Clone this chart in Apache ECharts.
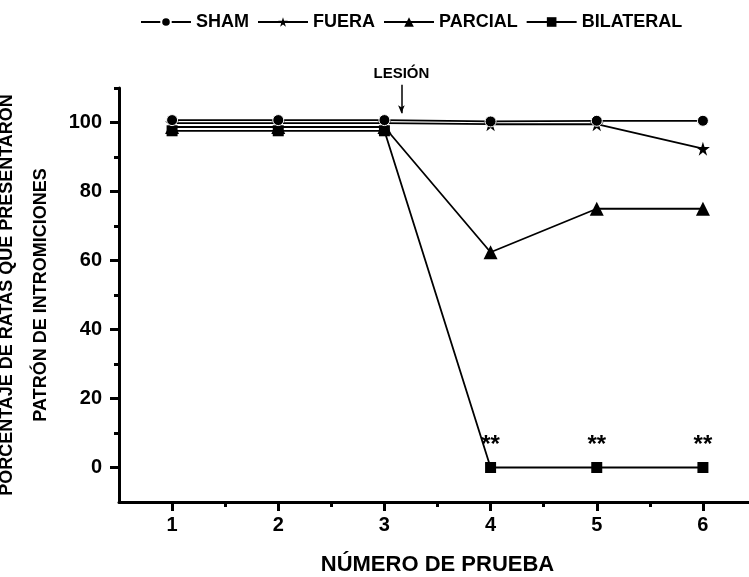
<!DOCTYPE html>
<html>
<head>
<meta charset="utf-8">
<script src="https://cdn.jsdelivr.net/npm/echarts@6/dist/echarts.min.js"></script>
<style>
  html, body { margin: 0; padding: 0; background: #fff; }
  #chart { width: 749px; height: 577px; }
</style>
</head>
<body>
<div id="chart"></div>
<script>
// trial numbers and percentages
const trials = [1, 2, 3, 4, 5, 6];
const sham = [100.7, 100.7, 100.7, 100.3, 100.5, 100.5];
const fuera = [99.8, 99.8, 99.8, 99.5, 99.5, 92.4];
const parcial = [98.7, 98.7, 98.7, 62.4, 75, 75];
const bilateral = [97.6, 97.6, 97.6, 0, 0, 0];
const signif = ['', '', '', '**', '**', '**'];

const yMajor = [0, 20, 40, 60, 80, 100];
const yMinor = [10, 30, 50, 70, 90, 110];
const xMajor = [1, 2, 3, 4, 5, 6];
const xMinor = [1.5, 2.5, 3.5, 4.5, 5.5, 6.5];
const lesion = { x: 3.16, label: 'LESIÓN', top: 111, tip: 102.8 };

const font = '"Liberation Sans", Arial, sans-serif';
const star = 'path://M50,0 L61,35 L98,35 L68,57 L79,92 L50,70 L21,92 L32,57 L2,35 L39,35 Z';

function pts(vals) {
  return trials.map((t, i) => [t, vals[i]]);
}

const chart = echarts.init(document.getElementById('chart'));
const lineStyle = { color: '#000', width: 1.8 };
const bold = { fontFamily: font, fontWeight: 'bold', color: '#000' };

chart.setOption({
  backgroundColor: '#fff',
  animation: false,
  textStyle: { fontFamily: font, color: '#000' },
  legend: {
    top: 8,
    left: 135,
    itemWidth: 50,
    itemHeight: 12,
    itemGap: 8,
    textStyle: Object.assign({ fontSize: 18 }, bold),
    data: ['SHAM', 'FUERA', 'PARCIAL', 'BILATERAL']
  },
  grid: [
    { left: 119, top: 88, width: 637, height: 414, outerBoundsMode: 'none', containLabel: false },
    // same scale, taller range: room for the lesion arrow above the plot
    { left: 119, top: 40, width: 637, height: 462.4, outerBoundsMode: 'none', containLabel: false }
  ],
  xAxis: [
    {
      type: 'value', min: 0.5, max: 6.5,
      name: 'NÚMERO DE PRUEBA', nameLocation: 'middle', nameGap: 52,
      nameTextStyle: Object.assign({ fontSize: 22 }, bold),
      axisLine: { onZero: false, lineStyle: { color: '#000', width: 3 } },
      axisTick: { customValues: xMajor, length: 9, lineStyle: { color: '#000', width: 3 } },
      axisLabel: Object.assign({ customValues: xMajor, margin: 13, fontSize: 20 }, bold),
      splitLine: { show: false }
    },
    {
      type: 'value', min: 0.5, max: 6.5, position: 'bottom',
      axisLine: { show: false, onZero: false },
      axisTick: { customValues: xMinor, length: 5, lineStyle: { color: '#000', width: 3 } },
      axisLabel: { show: false },
      splitLine: { show: false }
    },
    {
      type: 'value', min: 0.5, max: 6.5, gridIndex: 1, show: false
    }
  ],
  yAxis: [
    {
      type: 'value', min: -10, max: 110,
      name: 'PORCENTAJE DE RATAS QUE PRESENTARON\nPATRÓN DE INTROMICIONES',
      nameLocation: 'middle', nameGap: 57, nameRotate: 90,
      nameTextStyle: Object.assign({ fontSize: 18, lineHeight: 34 }, bold),
      axisLine: { show: true, onZero: false, lineStyle: { color: '#000', width: 3 } },
      axisTick: { show: true, customValues: yMajor, length: 9, lineStyle: { color: '#000', width: 3 } },
      axisLabel: Object.assign({ customValues: yMajor, margin: 17, fontSize: 20 }, bold),
      splitLine: { show: false }
    },
    {
      type: 'value', min: -10, max: 110, position: 'left',
      axisLine: { show: false, onZero: false },
      axisTick: { show: true, customValues: yMinor, length: 5, lineStyle: { color: '#000', width: 3 } },
      axisLabel: { show: false },
      splitLine: { show: false }
    },
    {
      type: 'value', min: -10, max: 124, gridIndex: 1, show: false
    }
  ],
  series: [
    {
      name: 'SHAM', type: 'line', data: pts(sham),
      symbol: 'circle', symbolSize: 11,
      itemStyle: { color: '#000', borderColor: '#fff', borderWidth: 1 },
      lineStyle: lineStyle, z: 5
    },
    {
      name: 'FUERA', type: 'line', data: pts(fuera),
      symbol: star, symbolSize: 14,
      itemStyle: { color: '#000' },
      lineStyle: lineStyle, z: 4
    },
    {
      name: 'PARCIAL', type: 'line', data: pts(parcial),
      symbol: 'triangle', symbolSize: 14,
      itemStyle: { color: '#000' },
      lineStyle: lineStyle, z: 3
    },
    {
      name: 'BILATERAL', type: 'line', data: pts(bilateral),
      symbol: 'rect', symbolSize: 11,
      itemStyle: { color: '#000' },
      lineStyle: lineStyle, z: 2,
      label: Object.assign({
        show: true, position: 'top', distance: 5,
        formatter: p => signif[p.dataIndex],
        fontSize: 24
      }, bold)
    },
    {
      name: 'lesion', type: 'line', xAxisIndex: 2, yAxisIndex: 2, data: [],
      markLine: {
        silent: true,
        symbol: ['none', 'arrow'], symbolSize: [5, 8],
        label: Object.assign({ show: true, position: 'start', distance: 4, formatter: lesion.label, fontSize: 15 }, bold),
        lineStyle: { color: '#000', width: 1.5, type: 'solid' },
        data: [[{ coord: [lesion.x, lesion.top] }, { coord: [lesion.x, lesion.tip] }]]
      }
    }
  ]
});
</script>
</body>
</html>
